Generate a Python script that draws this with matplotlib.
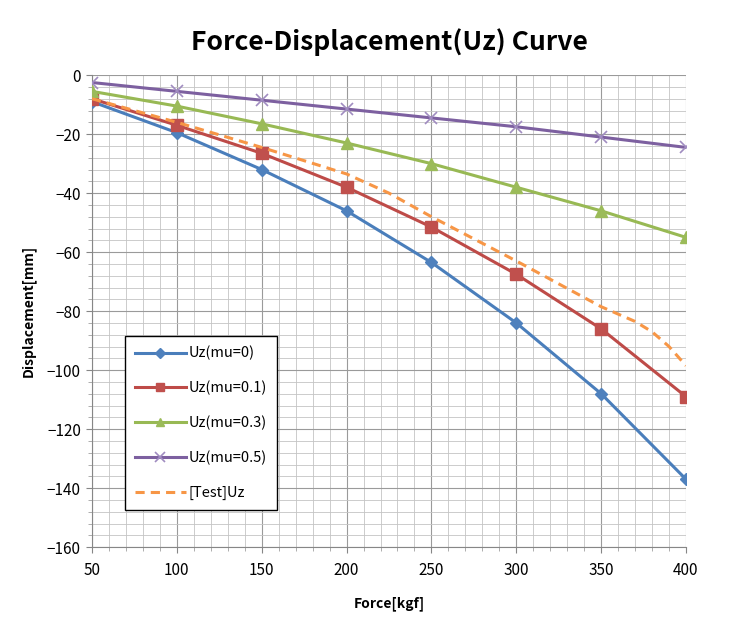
import numpy as np
import matplotlib
matplotlib.use('Agg')
import matplotlib.pyplot as plt
from matplotlib.ticker import MultipleLocator

plt.rcParams['font.family'] = ['Noto Sans CJK KR', 'DejaVu Sans']

force = [50, 100, 150, 200, 250, 300, 350, 400]
uz_mu0 = [-9, -19.5, -32, -46, -63.5, -84, -108, -137]
uz_mu01 = [-8, -17, -26.5, -38, -51.5, -67.5, -86, -109]
uz_mu03 = [-5.5, -10.5, -16.5, -23, -30, -38, -46, -55]
uz_mu05 = [-2.5, -5.5, -8.5, -11.5, -14.5, -17.5, -21, -24.5]

test_force = [50, 100, 150, 200, 225, 250, 300, 350, 370, 380, 390, 400]
test_uz = [-8, -16, -24.5, -33.5, -40, -48, -63, -78.5, -83.5, -87, -92, -98.5]

fig = plt.figure(figsize=(7.42, 6.21), dpi=100)
ax = fig.add_axes([0.124, 0.119, 0.8005, 0.760])

ax.plot(force, uz_mu0, color='#4A7EBB', lw=2.2, marker='D', ms=6,
        mfc='#4F81BD', mec='#4F81BD', label='Uz(mu=0)', zorder=3)
ax.plot(force, uz_mu01, color='#BE4B48', lw=2.2, marker='s', ms=8,
        mfc='#C0504D', mec='#C0504D', label='Uz(mu=0.1)', zorder=3)
ax.plot(force, uz_mu03, color='#98B954', lw=2.2, marker='^', ms=8,
        mfc='#9BBB59', mec='#9BBB59', label='Uz(mu=0.3)', zorder=3)
ax.plot(force, uz_mu05, color='#7D60A0', lw=2.2, marker='x', ms=9, mew=1.2,
        mec='#A08CC0', label='Uz(mu=0.5)', zorder=3)
ax.plot(test_force, test_uz, color='#F79646', lw=2.2, ls=(0, (3, 2)),
        label='[Test]Uz', zorder=3)

ax.set_xlim(50, 400)
ax.set_ylim(-160, 0)
ax.xaxis.set_major_locator(MultipleLocator(50))
ax.xaxis.set_minor_locator(MultipleLocator(10))
ax.yaxis.set_major_locator(MultipleLocator(20))
ax.yaxis.set_minor_locator(MultipleLocator(4))

ax.grid(which='major', color='#9a9a9a', lw=0.8)
ax.grid(which='minor', color='#c4c4c4', lw=0.6)
ax.set_axisbelow(True)

for s in ['top', 'right']:
    ax.spines[s].set_visible(False)
for s in ['left', 'bottom']:
    ax.spines[s].set_color('#868686')

ax.tick_params(which='major', length=4, color='#868686', labelsize=11, pad=4)
ax.tick_params(which='minor', length=3, color='#a0a0a0')
ax.tick_params(axis='x', pad=7)

ax.set_xlabel('Force[kgf]', fontsize=10, fontweight='bold', labelpad=12)
ax.set_ylabel('Displacement[mm]', fontsize=10, fontweight='bold', labelpad=8)

ax.set_title('Force-Displacement(Uz) Curve', fontsize=19, fontweight='bold', pad=18)

leg = ax.legend(loc='lower left', bbox_to_anchor=(0.055, 0.078), fontsize=10.5,
                fancybox=False, framealpha=1, edgecolor='black',
                labelspacing=1.4, handlelength=3.5, handletextpad=0.2,
                borderpad=0.7, borderaxespad=0, markerscale=0.8)
leg.get_frame().set_linewidth(1.0)

fig.savefig('out.png', dpi=100)
